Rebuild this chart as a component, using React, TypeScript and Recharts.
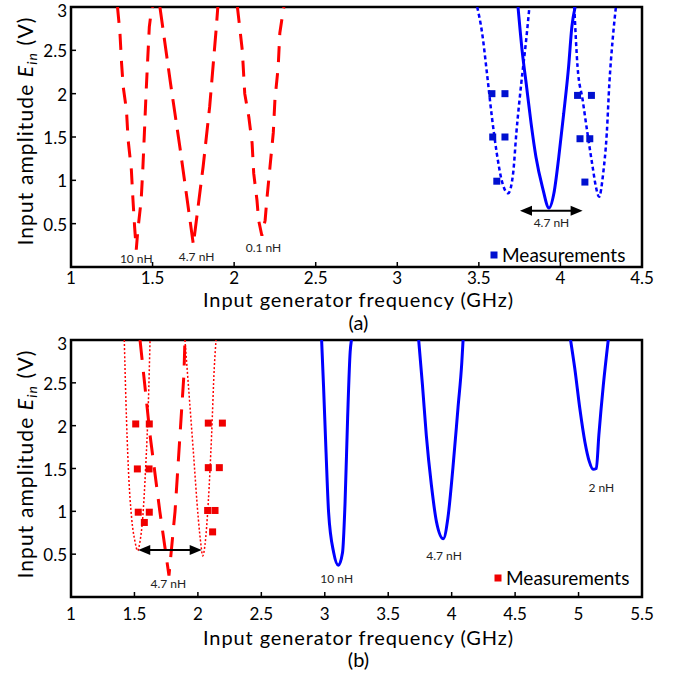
import React from 'react';
import {
  ComposedChart,
  Line,
  Scatter,
  XAxis,
  YAxis,
  ReferenceArea,
  ReferenceLine,
  ReferenceDot,
  Legend,
} from 'recharts';

const FONT = "Lato, 'Open Sans', sans-serif";

// ---------- tick labels ----------
const aTicksX = [1, 1.5, 2, 2.5, 3, 3.5, 4, 4.5];
const bTicksX = [1, 1.5, 2, 2.5, 3, 3.5, 4, 4.5, 5, 5.5];
const yTicks = [0.5, 1, 1.5, 2, 2.5, 3];

// ---------- panel (a) ----------
const a10nH_x = [1.285, 1.30, 1.31, 1.32, 1.34, 1.35, 1.37, 1.38, 1.39, 1.40, 1.41, 1.43, 1.44, 1.45, 1.46, 1.47, 1.48, 1.49, 1.50];
const a10nH_y = [3.0, 2.70, 2.35, 2.08, 1.81, 1.47, 1.12, 0.77, 0.46, 0.20, 0.43, 0.77, 1.12, 1.55, 2.00, 2.39, 2.77, 2.92, 3.0];
const a47nH_x = [1.545, 1.61, 1.67, 1.75, 1.81, 1.85, 1.89, 1.90];
const a47nH_y = [3.0, 2.12, 1.35, 0.26, 1.16, 1.85, 2.75, 3.0];
const a01nH_x = [2.02, 2.05, 2.065, 2.09, 2.11, 2.12, 2.14, 2.15, 2.17, 2.19, 2.20, 2.22, 2.24, 2.25, 2.27, 2.28, 2.30, 2.305];
const a01nH_y = [3.0, 2.5, 2.0, 1.73, 1.43, 1.08, 0.77, 0.54, 0.36, 0.54, 0.77, 1.16, 1.55, 1.93, 2.31, 2.70, 2.95, 3.0];
const aSolid_x = [3.74, 3.765, 3.79, 3.82, 3.85, 3.89, 3.93, 3.96, 3.99, 4.02, 4.05, 4.07, 4.09];
const aSolid_y = [3.0, 2.5, 2.12, 1.66, 1.27, 0.92, 0.68, 0.85, 1.27, 1.77, 2.31, 2.77, 3.0];
const aDotL_x = [3.49, 3.52, 3.55, 3.58, 3.61, 3.64, 3.68, 3.71, 3.73, 3.76, 3.79, 3.81];
const aDotL_y = [3.0, 2.70, 2.23, 1.73, 1.31, 1.0, 0.85, 1.08, 1.55, 2.12, 2.62, 3.0];
const aDotR_x = [4.085, 4.105, 4.136, 4.166, 4.197, 4.217, 4.237, 4.262, 4.284, 4.30, 4.32, 4.34];
const aDotR_y = [3.0, 2.31, 1.93, 1.54, 1.16, 0.93, 0.81, 1.08, 1.54, 2.12, 2.62, 3.0];
const aMeas_x = [3.58, 3.66, 3.585, 3.66, 3.61, 4.105, 4.19, 4.12, 4.18, 4.15];
const aMeas_y = [2.0, 2.0, 1.5, 1.5, 0.99, 1.98, 1.98, 1.48, 1.48, 0.98];

// ---------- panel (b) ----------
const bDotL_x = [1.42, 1.433, 1.452, 1.478, 1.504, 1.525, 1.544, 1.565, 1.588, 1.61, 1.623];
const bDotL_y = [3.0, 2.28, 1.50, 0.92, 0.65, 0.54, 0.65, 0.92, 1.50, 2.28, 3.0];
const bDotR_x = [1.898, 1.925, 1.964, 2.003, 2.024, 2.038, 2.056, 2.082, 2.108, 2.129, 2.143];
const bDotR_y = [3.0, 2.475, 1.70, 0.92, 0.61, 0.48, 0.61, 1.11, 1.89, 2.67, 3.0];
const bLong_x = [1.544, 1.623, 1.70, 1.772, 1.82, 1.859, 1.89, 1.898];
const bLong_y = [3.0, 1.89, 1.0, 0.25, 1.0, 1.89, 2.6, 3.0];
const b10nH_x = [2.975, 2.99, 3.01, 3.03, 3.07, 3.107, 3.14, 3.16, 3.18, 3.20, 3.21];
const b10nH_y = [3.0, 2.47, 1.69, 0.99, 0.52, 0.37, 0.52, 1.11, 2.09, 2.86, 3.0];
const b47nH_x = [3.74, 3.77, 3.80, 3.84, 3.88, 3.934, 3.97, 4.01, 4.05, 4.08, 4.09];
const b47nH_y = [3.0, 2.47, 1.89, 1.31, 0.88, 0.68, 0.92, 1.51, 2.21, 2.74, 3.0];
const b2nH_x = [4.937, 4.97, 5.01, 5.05, 5.085, 5.115, 5.14, 5.16, 5.195, 5.234];
const b2nH_y = [3.0, 2.67, 2.20, 1.81, 1.58, 1.49, 1.50, 1.89, 2.47, 3.0];
const bMeas_x = [1.51, 1.617, 1.523, 1.615, 1.53, 1.617, 1.578, 2.082, 2.193, 2.082, 2.169, 2.077, 2.135, 2.116];
const bMeas_y = [2.02, 2.02, 1.495, 1.495, 0.99, 0.99, 0.87, 2.03, 2.03, 1.51, 1.51, 1.01, 1.01, 0.76];

const pts = (xs: number[], ys: number[]) => xs.map((x, i) => ({ x, y: ys[i] }));

const RED = '#ff0000';
const BLUE = '#0000ff';

type Series = { data: { x: number; y: number }[]; color: string; width: number; dash?: string; curve: any };
type Note = { x: number; y: number; text: string };

const seriesA: Series[] = [
  { data: pts(a10nH_x, a10nH_y), color: RED, width: 3, dash: '16 11', curve: 'linear' },
  { data: pts(a47nH_x, a47nH_y), color: RED, width: 3, dash: '21 10', curve: 'linear' },
  { data: pts(a01nH_x, a01nH_y), color: RED, width: 3, dash: '16 11', curve: 'linear' },
  { data: pts(aDotL_x, aDotL_y), color: BLUE, width: 2.5, dash: '4 3', curve: 'monotoneX' },
  { data: pts(aDotR_x, aDotR_y), color: BLUE, width: 2.5, dash: '4 3', curve: 'monotoneX' },
  { data: pts(aSolid_x, aSolid_y), color: BLUE, width: 3, curve: 'monotoneX' },
];
const seriesB: Series[] = [
  { data: pts(bDotL_x, bDotL_y), color: RED, width: 1.5, dash: '2 2', curve: 'monotoneX' },
  { data: pts(bDotR_x, bDotR_y), color: RED, width: 1.5, dash: '2 2', curve: 'monotoneX' },
  { data: pts(bLong_x, bLong_y), color: RED, width: 3, dash: '20 12', curve: 'linear' },
  { data: pts(b10nH_x, b10nH_y), color: BLUE, width: 3, curve: 'monotoneX' },
  { data: pts(b47nH_x, b47nH_y), color: BLUE, width: 3, curve: 'monotoneX' },
  { data: pts(b2nH_x, b2nH_y), color: BLUE, width: 3, curve: 'monotoneX' },
];
const notesA: Note[] = [
  { x: 1.40, y: 0.10, text: '10 nH' },
  { x: 1.77, y: 0.12, text: '4.7 nH' },
  { x: 2.18, y: 0.22, text: '0.1 nH' },
  { x: 3.945, y: 0.51, text: '4.7 nH' },
];
const notesB: Note[] = [
  { x: 3.094, y: 0.21, text: '10 nH' },
  { x: 3.94, y: 0.48, text: '4.7 nH' },
  { x: 5.18, y: 1.27, text: '2 nH' },
  { x: 1.767, y: 0.16, text: '4.7 nH' },
];

const arrowShape = (p: any) => {
  const { x1, y1, x2 } = p;
  const h = 12;
  const w = 5;
  return (
    <g>
      <line x1={x1 + h - 1} y1={y1} x2={x2 - h + 1} y2={y1} stroke="#000" strokeWidth={2} />
      <polygon points={`${x1},${y1} ${x1 + h},${y1 - w} ${x1 + h},${y1 + w}`} fill="#000" />
      <polygon points={`${x2},${y1} ${x2 - h},${y1 - w} ${x2 - h},${y1 + w}`} fill="#000" />
    </g>
  );
};

const yTickRender = (props: any) => {
  const { x, y, payload } = props;
  const shift = payload.value === 3 ? 4 : 1;
  return (
    <text x={x} y={y + shift} dy="0.355em" textAnchor="end" fontFamily={FONT} fontSize={17} fill="#000">
      {payload.value}
    </text>
  );
};

type PanelProps = {
  top: number;
  height: number;
  plotTop: number;
  xMax: number;
  xTicks: number[];
  series: Series[];
  meas: { x: number; y: number }[];
  measColor: string;
  notes: Note[];
  arrow: { x1: number; x2: number; y: number };
  tickMargin: number;
  xLabelY: number;
  capY: number;
  capText: string;
  yLabelCy: number;
  legendLeft: number;
  legendTop: number;
};

function Panel(p: PanelProps) {
  const plotBottom = 267;
  const xAxisH = 30;
  const margin = { top: p.plotTop - 1, right: 40, bottom: p.height - plotBottom - xAxisH, left: 0 };
  const tickStyle = { fontSize: 17, fill: '#000', fontFamily: FONT };
  const tickLine = { stroke: '#000', strokeWidth: 1.5 };

  const xLabel = (props: any) => {
    const vb = props.viewBox || { x: 71, width: 571 };
    const cx = vb.x + vb.width / 2 + 2;
    return (
      <g>
        <text x={cx} y={p.xLabelY} textAnchor="middle" fontFamily={FONT} fontSize={20} letterSpacing={0.9} fill="#000">
          Input generator frequency (GHz)
        </text>
        <text x={cx} y={p.capY} textAnchor="middle" fontFamily={FONT} fontSize={20} fill="#000">
          {p.capText}
        </text>
      </g>
    );
  };
  const yLabel = () => {
    const cx = 33;
    const cy = p.yLabelCy;
    return (
      <text
        x={cx}
        y={cy}
        transform={`rotate(-90 ${cx} ${cy})`}
        textAnchor="middle"
        fontFamily={FONT}
        fontSize={21}
        letterSpacing={1.1}
        fill="#000"
      >
        Input amplitude <tspan fontStyle="italic">E</tspan>
        <tspan fontStyle="italic" fontSize={14} dy={4}>in</tspan>
        <tspan dy={-4}> (V)</tspan>
      </text>
    );
  };
  const square = (s: any) => (
    <rect x={s.cx - 3.5} y={s.cy - 3.5} width={7} height={7} fill={p.measColor} />
  );

  return (
    <div style={{ position: 'absolute', left: 0, top: p.top }}>
      <ComposedChart width={683} height={p.height} margin={margin}>
        <XAxis
          xAxisId="b"
          type="number"
          dataKey="x"
          domain={[1, p.xMax]}
          ticks={p.xTicks}
          interval={0}
          allowDataOverflow
          height={xAxisH}
          axisLine={false}
          tickSize={-5}
          tickMargin={p.tickMargin}
          tickLine={tickLine}
          tick={tickStyle}
          label={xLabel}
        />
        <XAxis
          xAxisId="t"
          orientation="top"
          type="number"
          dataKey="x"
          domain={[1, p.xMax]}
          ticks={p.xTicks}
          interval={0}
          allowDataOverflow
          height={1}
          axisLine={false}
          tick={false}
          tickSize={-5}
          tickLine={tickLine}
        />
        <YAxis
          yAxisId="l"
          type="number"
          dataKey="y"
          domain={[0, 3]}
          ticks={yTicks}
          interval={0}
          allowDataOverflow
          width={71}
          axisLine={false}
          tickSize={-5}
          tickMargin={9}
          tickLine={tickLine}
          tick={yTickRender}
          label={yLabel}
        />
        <YAxis
          yAxisId="r"
          orientation="right"
          type="number"
          dataKey="y"
          domain={[0, 3]}
          ticks={yTicks}
          interval={0}
          allowDataOverflow
          width={1}
          axisLine={false}
          tick={false}
          tickSize={-5}
          tickLine={tickLine}
        />
        {p.series.map((s, i) => (
          <Line
            key={i}
            xAxisId="b"
            yAxisId="l"
            data={s.data}
            dataKey="y"
            type={s.curve}
            stroke={s.color}
            strokeWidth={s.width}
            strokeDasharray={s.dash}
            dot={false}
            activeDot={false}
            legendType="none"
            isAnimationActive={false}
          />
        ))}
        <Scatter
          xAxisId="b"
          yAxisId="l"
          data={p.meas}
          dataKey="y"
          fill={p.measColor}
          shape={square}
          legendType="square"
          isAnimationActive={false}
        />
        <ReferenceLine
          xAxisId="b"
          yAxisId="l"
          segment={[
            { x: p.arrow.x1, y: p.arrow.y },
            { x: p.arrow.x2, y: p.arrow.y },
          ]}
          shape={arrowShape}
        />
        {p.notes.map((n, i) => (
          <ReferenceDot
            key={'n' + i}
            xAxisId="b"
            yAxisId="l"
            x={n.x}
            y={n.y}
            r={0}
            fill="none"
            stroke="none"
            label={{ value: n.text, position: 'center', fontSize: 12, fill: '#222', fontFamily: FONT }}
          />
        ))}
        <ReferenceArea
          xAxisId="b"
          yAxisId="l"
          x1={1}
          x2={p.xMax}
          y1={0}
          y2={3}
          fill="none"
          fillOpacity={0}
          stroke="#000"
          strokeWidth={2.5}
          ifOverflow="visible"
        />
        <Legend
          layout="horizontal"
          verticalAlign="middle"
          align="center"
          wrapperStyle={{ left: p.legendLeft, top: p.legendTop, width: 145, height: 24 }}
          content={() => (
            <svg width={145} height={24} style={{ display: 'block', overflow: 'visible' }}>
              <rect x={1.5} y={6.5} width={7} height={7} fill={p.measColor} />
              <text x={13} y={17} fontFamily={FONT} fontSize={19} fill="#000">
                Measurements
              </text>
            </svg>
          )}
        />
      </ComposedChart>
    </div>
  );
}

export default function App() {
  return (
    <div style={{ position: 'absolute', left: 0, top: 0, width: 683, height: 679, background: '#fff' }}>
      <Panel
        top={0}
        height={340}
        plotTop={7}
        xMax={4.5}
        xTicks={aTicksX}
        series={seriesA}
        meas={pts(aMeas_x, aMeas_y)}
        measColor="#0010d0"
        notes={notesA}
        arrow={{ x1: 3.752, x2: 4.136, y: 0.65 }}
        tickMargin={10}
        xLabelY={307}
        capY={330}
        capText="(a)"
        yLabelCy={131}
        legendLeft={489}
        legendTop={245}
      />
      <Panel
        top={330}
        height={349}
        plotTop={10}
        xMax={5.5}
        xTicks={bTicksX}
        series={seriesB}
        meas={pts(bMeas_x, bMeas_y)}
        measColor="#f00000"
        notes={notesB}
        arrow={{ x1: 1.53, x2: 2.03, y: 0.55 }}
        tickMargin={16}
        xLabelY={315}
        capY={337}
        capText="(b)"
        yLabelCy={134}
        legendLeft={493}
        legendTop={238}
      />
    </div>
  );
}
